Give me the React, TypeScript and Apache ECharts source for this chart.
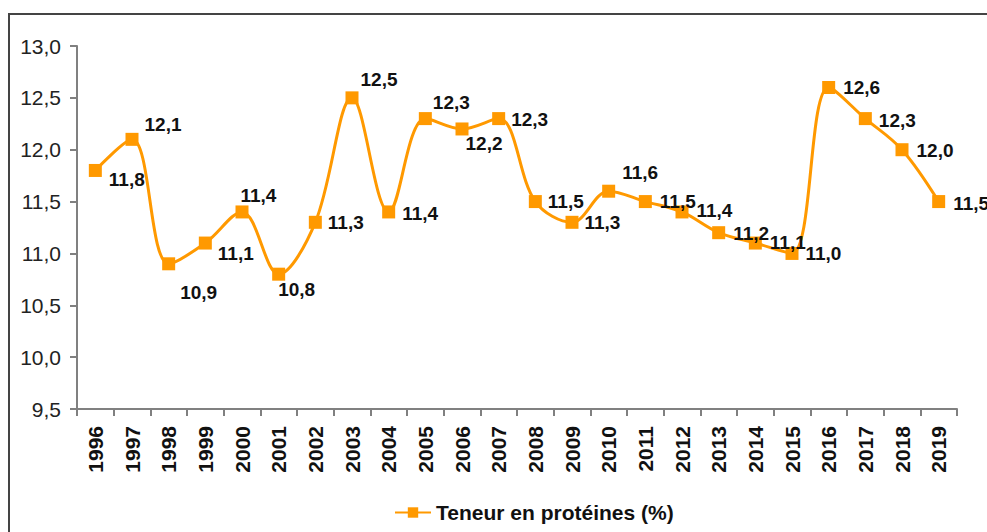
import React, { useEffect, useRef } from "react";
import * as echarts from "echarts";

const years: string[] = [
  "1996", "1997", "1998", "1999", "2000", "2001", "2002", "2003", "2004", "2005", "2006", "2007",
  "2008", "2009", "2010", "2011", "2012", "2013", "2014", "2015", "2016", "2017", "2018", "2019",
];
const proteinValues: number[] = [
  11.8, 12.1, 10.9, 11.1, 11.4, 10.8, 11.3, 12.5, 11.4, 12.3, 12.2, 12.3,
  11.5, 11.3, 11.6, 11.5, 11.4, 11.2, 11.1, 11.0, 12.6, 12.3, 12.0, 11.5,
];
const seriesName = "Teneur en protéines (%)";
const yMin = 9.5;
const yMax = 13;
const yStep = 0.5;

// label nudges (style only)
const labelOffsets: [number, number][] = [
  [2, 9], [1, -15], [0, 29], [1, 10], [-13, -16], [-12, 15], [1, 0], [-3, -18],
  [2, 2], [-4, -16], [-8, 15], [1, 1], [1, 0], [1, 0], [2, -19], [3, 0],
  [3, -1], [3, 1], [3, -1], [2, 0], [3, 0], [2, 2], [3, 1], [3, 2],
];

const fmt = (v: number) => v.toFixed(1).replace(".", ",");

export default function App() {
  const ref = useRef<HTMLDivElement>(null);
  useEffect(() => {
    if (!ref.current) return;
    const chart = echarts.init(ref.current, null, { renderer: "svg" });
    const orange = "#FF9900";
    const font = "Liberation Sans, Arial, sans-serif";
    chart.setOption({
      animation: false,
      backgroundColor: "#ffffff",
      textStyle: { fontFamily: font },
      graphic: [
        {
          type: "rect",
          shape: { x: 9, y: 14, width: 1100, height: 700 },
          style: { fill: "none", stroke: "#444", lineWidth: 2 },
          silent: true,
          z: -1,
        },
      ],
      grid: { left: 77, top: 46, width: 880, height: 363, containLabel: false },
      legend: {
        data: [seriesName],
        top: 497,
        left: 389,
        itemWidth: 36,
        itemHeight: 13,
        itemGap: 8,
        textStyle: {
          fontSize: 21,
          fontWeight: "bold",
          color: "#111",
          fontFamily: font,
        },
      },
      xAxis: {
        type: "category",
        data: years,
        boundaryGap: true,
        axisLine: { lineStyle: { color: "#808080", width: 2 } },
        axisTick: { show: true, length: 7, alignWithLabel: false, lineStyle: { color: "#808080", width: 2 } },
        axisLabel: {
          rotate: 90,
          interval: 0,
          margin: 17,
          fontSize: 21,
          fontWeight: "bold",
          color: "#111",
          fontFamily: font,
        },
        splitLine: { show: false },
      },
      yAxis: {
        type: "value",
        min: yMin,
        max: yMax,
        interval: yStep,
        axisLine: { show: true, lineStyle: { color: "#808080", width: 2 } },
        axisTick: { show: true, length: 7, lineStyle: { color: "#808080", width: 2 } },
        axisLabel: {
          formatter: (v: number) => fmt(v),
          margin: 16,
          fontSize: 21,
          color: "#222",
          fontFamily: font,
        },
        splitLine: { show: false },
      },
      series: [
        {
          name: seriesName,
          type: "line",
          smooth: 0.35,
          symbol: "rect",
          symbolSize: 13,
          lineStyle: { color: orange, width: 3 },
          itemStyle: { color: orange },
          label: {
            show: true,
            position: "right",
            distance: 5,
            formatter: (p: any) => fmt(p.value),
            fontSize: 19,
            fontWeight: "bold",
            color: "#111",
            fontFamily: font,
          },
          data: proteinValues.map((v, i) => ({
            value: v,
            label: { offset: labelOffsets[i] },
          })),
        },
      ],
    });
    return () => chart.dispose();
  }, []);
  return (
    <div
      ref={ref}
      style={{ position: "fixed", left: 0, top: 0, width: 987, height: 532 }}
    />
  );
}
